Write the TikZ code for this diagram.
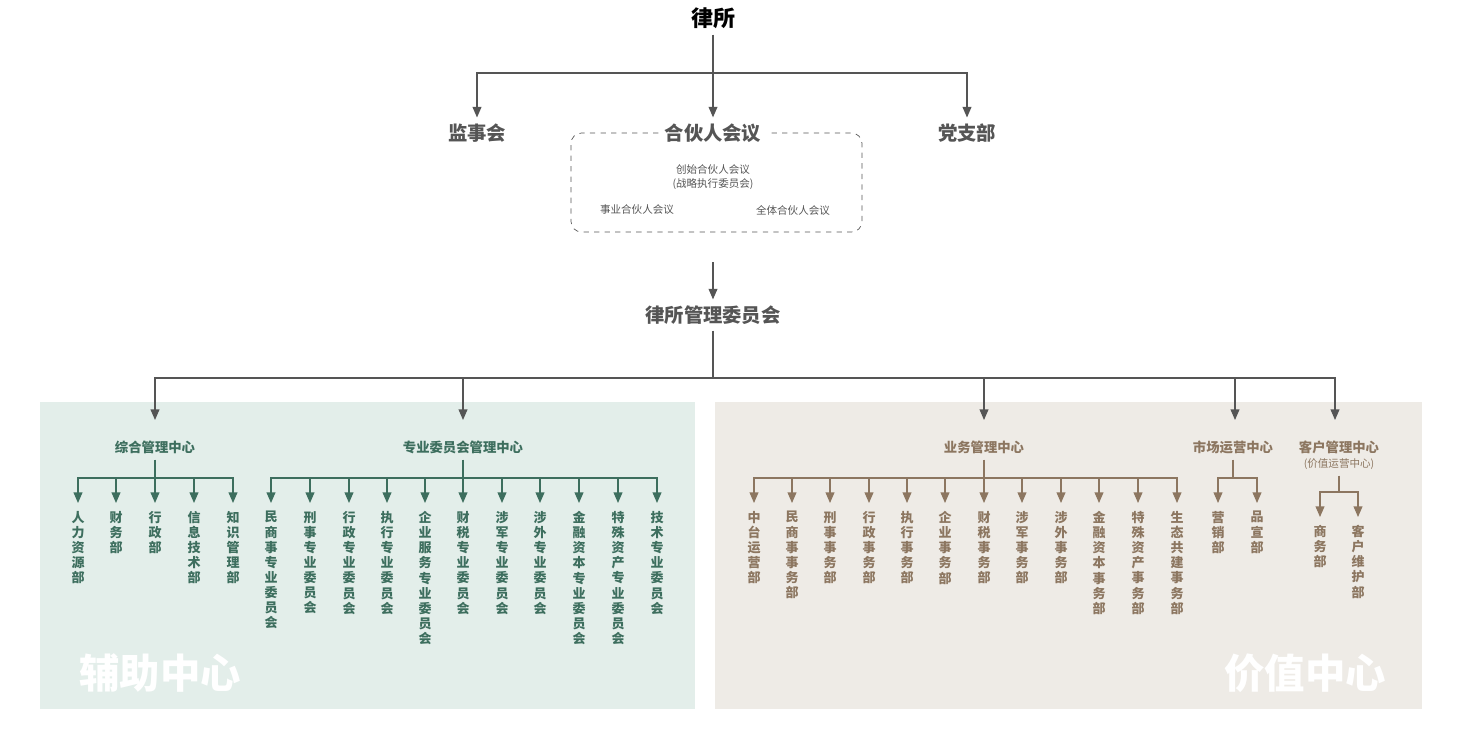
\documentclass[tikz,border=0pt]{standalone}
\usepackage{fontspec}
\setmainfont{Noto Sans CJK SC}
\usetikzlibrary{arrows.meta}
\definecolor{gline}{HTML}{3D6E5E}
\definecolor{bline}{HTML}{8C7660}
\definecolor{dline}{HTML}{555555}
\definecolor{gpanel}{HTML}{E3EEEA}
\definecolor{bpanel}{HTML}{EEEBE6}
\tikzset{
  arr/.style={-{Triangle[width=5pt,length=6pt]},line width=0.7pt},
  head/.style={font=\bfseries\fontsize{11}{13}\selectfont,text=dline},
  centre/.style={font=\bfseries\fontsize{7.6}{9}\selectfont},
  dept/.style={anchor=north,align=center,inner sep=0pt,font=\bfseries\fontsize{7.4}{8.6}\selectfont},
  wmark/.style={font=\bfseries\fontsize{23}{25}\selectfont,text=white},
}
\begin{document}
\begin{tikzpicture}[x=0.02cm,y=-0.02cm]
  \useasboundingbox (0,0) rectangle (1470,734);
  \fill[gpanel] (40,402) rectangle (695,709);
  \fill[bpanel] (715,402) rectangle (1422,709);
  \node[wmark] (fuzhu) at (160,673) {辅助中心};
  \node[wmark] (jiazhi) at (1305,673) {价值中心};
  %%% top
  \node[font=\bfseries\fontsize{12.5}{14}\selectfont] (firm) at (713,18) {律所};
  \node[head] (jianshi) at (477,133) {监事会};
  \node[head] (hehuo) at (713,133) {合伙人会议};
  \node[head] (dangzhi) at (967,133) {党支部};
  \draw[dashed,dline,rounded corners=6pt] (hehuo.west) -- (571,133) -- (571,232) -- (862,232) -- (862,133) -- (hehuo.east);
  \node[font=\fontsize{6}{7.5}\selectfont,align=center,text=dline] (chuangshi) at (713,177) {创始合伙人会议\\(战略执行委员会)};
  \node[font=\fontsize{6}{7}\selectfont,text=dline] (shiye) at (637,210) {事业合伙人会议};
  \node[font=\fontsize{6}{7}\selectfont,text=dline] (quanti) at (793,210) {全体合伙人会议};
  \coordinate (t0) at (713,73);
  \draw[dline,line width=0.7pt] (firm.south) -- (t0);
  \draw[arr,dline] (t0) -| (jianshi.north);
  \draw[arr,dline] (t0) -| (dangzhi.north);
  \draw[arr,dline] (t0) -- (hehuo.north);
  \node[head] (guanwei) at (713,315) {律所管理委员会};
  \coordinate (boxb) at (713,262);
  \draw[arr,dline] (boxb) -- (guanwei.north);
  %%% centres
  \node[centre,text=gline] (zonghe) at (155,447) {综合管理中心};
  \node[centre,text=gline] (zhuanwei) at (463,447) {专业委员会管理中心};
  \node[centre,text=bline] (yewu) at (984,447) {业务管理中心};
  \node[centre,text=bline] (shichang) at (1233,447) {市场运营中心};
  \node[centre,text=bline] (kehu) at (1339,447) {客户管理中心};
  \node[font=\fontsize{6}{7}\selectfont,text=bline] (jiazhiyy) at (1339,464) {(价值运营中心)};
  \coordinate (m0) at (713,378);
  \draw[dline,line width=0.7pt] (guanwei.south) -- (m0);
  \foreach \c/\x in {zonghe/155,zhuanwei/463,yewu/984,shichang/1235,kehu/1335}
    \draw[arr,dline] (m0) -| (\x,420) coordinate (in-\c);
  %%% departments
  \foreach \lst/\col/\y/\yb/\nm in {{78/人\\力\\资\\源\\部,116/财\\务\\部,155/行\\政\\部,194/信\\息\\技\\术\\部,233/知\\识\\管\\理\\部}/gline/478/zonghe.south/zh,
    {271/民\\商\\事\\专\\业\\委\\员\\会,310/刑\\事\\专\\业\\委\\员\\会,349/行\\政\\专\\业\\委\\员\\会,387/执\\行\\专\\业\\委\\员\\会,425/企\\业\\服\\务\\专\\业\\委\\员\\会,463/财\\税\\专\\业\\委\\员\\会,502/涉\\军\\专\\业\\委\\员\\会,540/涉\\外\\专\\业\\委\\员\\会,579/金\\融\\资\\本\\专\\业\\委\\员\\会,618/特\\殊\\资\\产\\专\\业\\委\\员\\会,657/技\\术\\专\\业\\委\\员\\会}/gline/478/zhuanwei.south/zw,
    {754/中\\台\\运\\营\\部,792/民\\商\\事\\事\\务\\部,830/刑\\事\\事\\务\\部,869/行\\政\\事\\务\\部,907/执\\行\\事\\务\\部,945/企\\业\\事\\务\\部,984/财\\税\\事\\务\\部,1022/涉\\军\\事\\务\\部,1061/涉\\外\\事\\务\\部,1099/金\\融\\资\\本\\事\\务\\部,1138/特\\殊\\资\\产\\事\\务\\部,1177/生\\态\\共\\建\\事\\务\\部}/bline/478/yewu.south/yw,
    {1218/营\\销\\部,1257/品\\宣\\部}/bline/478/shichang.south/sc,
    {1320/商\\务\\部,1358/客\\户\\维\\护\\部}/bline/492/jiazhiyy.south/kh}{
    \path (\yb) coordinate (src-\nm);
    \coordinate (bar-\nm) at (src-\nm |- 0,\y);
    \draw[\col,line width=0.7pt] (src-\nm) -- (bar-\nm);
    \foreach \x/\t [count=\i] in \lst {
      \draw[arr,\col] (bar-\nm) -| (\x,\y+25) coordinate (d-\nm-\i);
      \node[dept,text=\col] (n-\nm-\i) at (\x,\y+33) {\t};
    }
  }
\end{tikzpicture}
\end{document}
